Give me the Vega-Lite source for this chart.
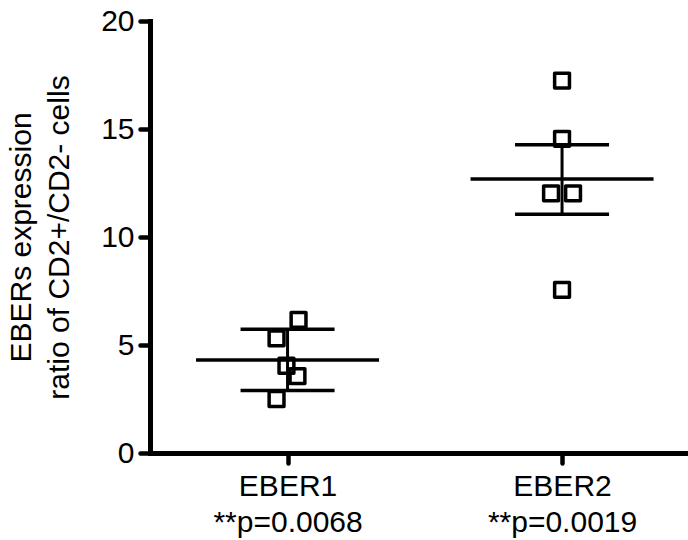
{
  "$schema": "https://vega.github.io/schema/vega-lite/v6.json",
  "width": 538,
  "height": 432,
  "autosize": {"type": "none"},
  "padding": {"left": 150, "top": 21, "right": 0, "bottom": 87},
  "background": "white",
  "config": {
    "view": {"stroke": null},
    "font": "Liberation Sans",
    "axis": {
      "grid": false,
      "domainColor": "black",
      "domainWidth": 5,
      "tickColor": "black",
      "tickWidth": 4.5,
      "tickSize": 10,
      "tickCap": "round",
      "domainCap": "square",
      "labelColor": "black",
      "labelFontSize": 30,
      "labelFont": "Liberation Sans",
      "titleColor": "black",
      "titleFontSize": 30,
      "titleFont": "Liberation Sans",
      "titleFontWeight": "normal"
    }
  },
  "datasets": {
    "points": [
      {"gene": "EBER1", "value": 6.16, "dx": 1},
      {"gene": "EBER1", "value": 5.31, "dx": -1},
      {"gene": "EBER1", "value": 4.04, "dx": -0.1},
      {"gene": "EBER1", "value": 3.56, "dx": 0.9},
      {"gene": "EBER1", "value": 2.5, "dx": -1},
      {"gene": "EBER2", "value": 17.24, "dx": 0},
      {"gene": "EBER2", "value": 14.54, "dx": 0},
      {"gene": "EBER2", "value": 12.02, "dx": -1},
      {"gene": "EBER2", "value": 12.02, "dx": 1},
      {"gene": "EBER2", "value": 7.55, "dx": 0}
    ],
    "summary": [
      {"gene": "EBER1", "mean": 4.31, "lo": 2.89, "hi": 5.73},
      {"gene": "EBER2", "mean": 12.69, "lo": 11.05, "hi": 14.27}
    ]
  },
  "encoding": {
    "x": {
      "field": "gene",
      "type": "nominal",
      "sort": ["EBER1", "EBER2"],
      "scale": {"type": "point", "padding": 0.48, "align": 0.522},
      "axis": {
        "title": null,
        "labelAngle": 0,
        "labelPadding": 8,
        "labelLineHeight": 36,
        "labelExpr": "datum.value == 'EBER1' ? ['EBER1', '**p=0.0068'] : ['EBER2', '**p=0.0019']"
      }
    }
  },
  "layer": [
    {
      "data": {"name": "summary"},
      "mark": {"type": "rule", "color": "black", "strokeWidth": 3, "opacity": 1},
      "encoding": {
        "y": {"field": "lo", "type": "quantitative", "scale": {"domain": [0, 20]}},
        "y2": {"field": "hi"}
      }
    },
    {
      "data": {"name": "summary"},
      "mark": {"type": "tick", "color": "black", "opacity": 1, "thickness": 3.5, "size": 183, "orient": "horizontal"},
      "encoding": {
        "y": {"field": "mean", "type": "quantitative"}
      }
    },
    {
      "data": {"name": "summary"},
      "mark": {"type": "tick", "color": "black", "opacity": 1, "thickness": 3.5, "size": 94, "orient": "horizontal"},
      "encoding": {
        "y": {"field": "lo", "type": "quantitative"}
      }
    },
    {
      "data": {"name": "summary"},
      "mark": {"type": "tick", "color": "black", "opacity": 1, "thickness": 3.5, "size": 94, "orient": "horizontal"},
      "encoding": {
        "y": {"field": "hi", "type": "quantitative"}
      }
    },
    {
      "data": {"name": "points"},
      "mark": {"type": "point", "shape": "square", "filled": false, "size": 220, "stroke": "black", "strokeWidth": 3.5, "opacity": 1, "strokeJoin": "round"},
      "encoding": {
        "xOffset": {"field": "dx", "type": "quantitative", "scale": {"domain": [-1, 1], "range": [-11, 11]}},
        "y": {
          "field": "value",
          "type": "quantitative",
          "scale": {"domain": [0, 20]},
          "axis": {
            "values": [0, 5, 10, 15, 20],
            "title": ["EBERs expression", "ratio of CD2+/CD2- cells"],
            "labelPadding": 6,
            "titlePadding": 26,
            "titleLineHeight": 38
          }
        }
      }
    }
  ]
}
